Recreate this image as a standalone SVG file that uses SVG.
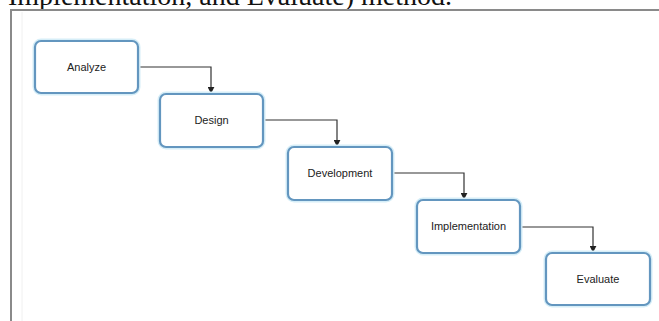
<svg xmlns="http://www.w3.org/2000/svg" width="659" height="321" viewBox="0 0 659 321">
  <defs>
    <marker id="arr" viewBox="0 0 10 10" refX="9" refY="5" markerWidth="7" markerHeight="7" orient="auto" markerUnits="userSpaceOnUse">
      <path d="M0,0 L10,5 L0,10 z" fill="#222"/>
    </marker>
    <style>
      .box { fill: #ffffff; stroke: #6396bf; stroke-width: 2.2; }
      .glow { fill: none; stroke: #d6eef8; stroke-width: 5; }
      .lbl { font-family: "Liberation Sans", Arial, sans-serif; font-size: 11px; fill: #222; text-anchor: middle; dominant-baseline: central; }
      .conn { fill: none; stroke: #333; stroke-width: 1.2; marker-end: url(#arr); }
      .frame { stroke: #8a8a8a; stroke-width: 2; fill: none; }
    </style>
  </defs>
  <rect x="0" y="0" width="659" height="321" fill="#ffffff"/>
  <text x="8" y="5" font-family="'Liberation Serif', 'Times New Roman', serif" font-size="28" fill="#111">Implementation, and Evaluate) method.</text>
  <line class="frame" x1="10" y1="10" x2="659" y2="10"/>
  <line class="frame" x1="11" y1="10" x2="11" y2="321"/>
  <line x1="22" y1="12" x2="22" y2="321" stroke="#f0f0f0" stroke-width="1"/>

  <g id="connectors">
    <path class="conn" d="M138,67 H211 V93"/>
    <path class="conn" d="M263,120 H337 V146"/>
    <path class="conn" d="M392,173 H464 V199"/>
    <path class="conn" d="M520,227 H593 V252"/>
  </g>

  <g id="analyze">
    <rect class="glow" x="35" y="41" width="103" height="52" rx="6"/>
    <rect class="box" x="35" y="41" width="103" height="52" rx="6"/>
    <text class="lbl" x="86.5" y="67">Analyze</text>
  </g>
  <g id="design">
    <rect class="glow" x="160" y="94" width="103" height="53" rx="6"/>
    <rect class="box" x="160" y="94" width="103" height="53" rx="6"/>
    <text class="lbl" x="211.5" y="120">Design</text>
  </g>
  <g id="development">
    <rect class="glow" x="288" y="147" width="104" height="53" rx="6"/>
    <rect class="box" x="288" y="147" width="104" height="53" rx="6"/>
    <text class="lbl" x="340" y="173">Development</text>
  </g>
  <g id="implementation">
    <rect class="glow" x="417" y="200" width="103" height="53" rx="6"/>
    <rect class="box" x="417" y="200" width="103" height="53" rx="6"/>
    <text class="lbl" x="468.5" y="226">Implementation</text>
  </g>
  <g id="evaluate">
    <rect class="glow" x="546" y="253" width="104" height="52" rx="6"/>
    <rect class="box" x="546" y="253" width="104" height="52" rx="6"/>
    <text class="lbl" x="598" y="279">Evaluate</text>
  </g>
</svg>
